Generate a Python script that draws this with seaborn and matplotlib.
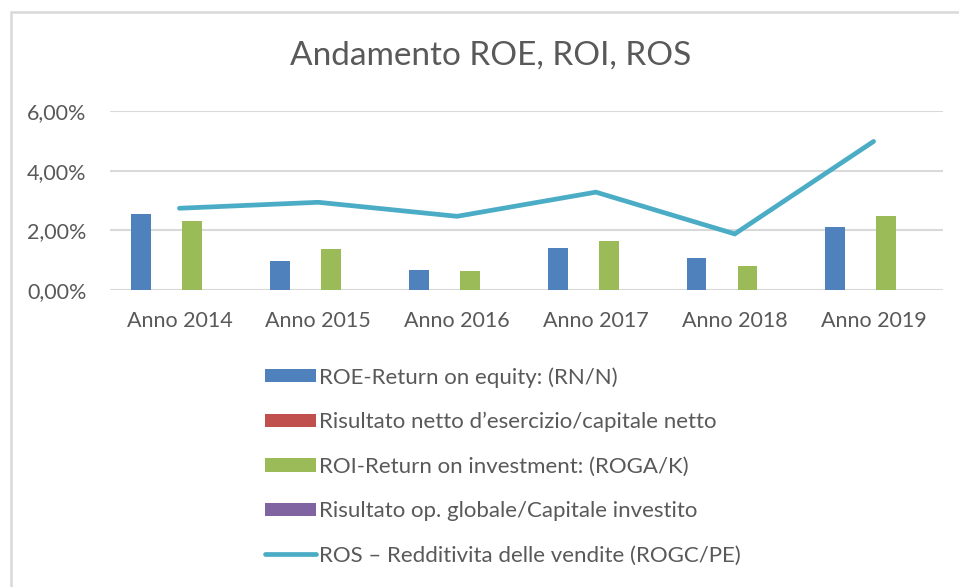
import matplotlib
matplotlib.use("Agg")
import matplotlib.pyplot as plt
from matplotlib.patches import Rectangle
from matplotlib.ticker import FuncFormatter
import seaborn as sns
import pandas as pd
import numpy as np

anni = ["Anno 2014", "Anno 2015", "Anno 2016", "Anno 2017", "Anno 2018", "Anno 2019"]
roe = [2.55, 0.98, 0.67, 1.41, 1.07, 2.10]
netto = [0, 0, 0, 0, 0, 0]
roi = [2.32, 1.37, 0.63, 1.63, 0.81, 2.49]
globale = [0, 0, 0, 0, 0, 0]
ros = [2.74, 2.94, 2.47, 3.28, 1.88, 4.98]

serie = [
    "ROE-Return on equity: (RN/N)",
    "Risultato netto d\u2019esercizio/capitale netto",
    "ROI-Return on investment: (ROGA/K)",
    "Risultato op. globale/Capitale investito",
]
label_ros = "ROS \u2013 Redditivita delle vendite (ROGC/PE)"
colori = ["#4f81bd", "#c0504d", "#9bbb59", "#8064a2"]
colore_ros = "#4bacc6"

sns.set_style("white")
plt.rcParams["font.family"] = ["Lato", "DejaVu Sans"]

df = pd.DataFrame({
    "anno": anni * 4,
    "valore": roe + netto + roi + globale,
    "serie": [s for s in serie for _ in anni],
})

fig = plt.figure(figsize=(9.59, 5.87), dpi=100)
ax = fig.add_axes([110 / 959, 1 - 290 / 587, 833 / 959, 179 / 587])

sns.barplot(data=df, x="anno", y="valore", hue="serie", hue_order=serie,
            palette=colori, saturation=1, width=0.735, gap=0.22, linewidth=0,
            errorbar=None, ax=ax)
sns.lineplot(x=np.arange(len(anni)), y=ros, color=colore_ros, linewidth=3.4,
             solid_capstyle="round", solid_joinstyle="miter", label=label_ros, ax=ax)

ax.set_xlim(-0.5, len(anni) - 0.5)
ax.set_ylim(0, 6)
ax.set_yticks([0, 2, 4, 6])
ax.yaxis.set_major_formatter(FuncFormatter(lambda v, p: f"{v:.2f}".replace(".", ",") + "%"))
ax.grid(axis="y", color="#d9d9d9", linewidth=1.5)
ax.set_axisbelow(True)
for s in ax.spines.values():
    s.set_visible(False)
ax.tick_params(axis="both", length=0, labelsize=15.5, colors="#595959")
ax.tick_params(axis="x", pad=15)
ax.tick_params(axis="y", pad=17)
ax.set_xlabel("")
ax.set_ylabel("")

handles, labels = ax.get_legend_handles_labels()
ax.legend(handles, labels, loc="upper left", bbox_to_anchor=(245 / 959, 1 - 347 / 587),
          bbox_transform=fig.transFigure, frameon=False, fontsize=16,
          labelcolor="#595959", handlelength=2.3, handleheight=0.55,
          handletextpad=0.15, labelspacing=1.1)

fig.text(491 / 959, 1 - 56 / 587, "Andamento ROE, ROI, ROS", ha="center", va="center",
         fontsize=24, color="#595959")

fig.patches.append(Rectangle((11 / 959, -0.1), 1.2, 1 - 12 / 587 + 0.1,
                             transform=fig.transFigure, fill=False,
                             edgecolor="#d9d9d9", linewidth=1.8))

fig.savefig("out.png", dpi=100, facecolor="white")
